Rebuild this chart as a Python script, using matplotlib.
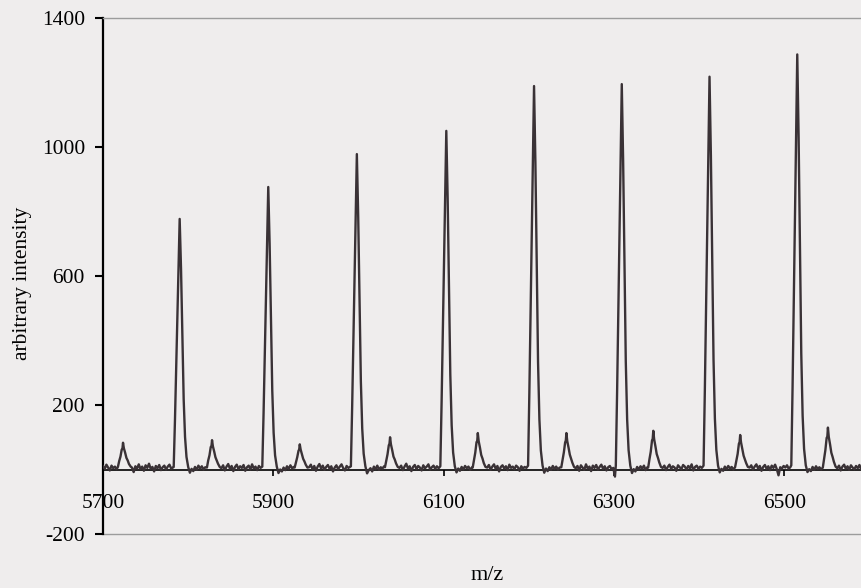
import numpy as np
import matplotlib.pyplot as plt

plt.rcParams['font.family'] = ['Liberation Serif', 'DejaVu Serif']

# main peaks: m/z positions and intensities
big_mz = [5790, 5894, 5998, 6103, 6206, 6309, 6412, 6515]
big_height = [777, 876, 978, 1050, 1189, 1195, 1218, 1287]

# traced profile points of every peak (m/z, intensity)
peak_mz = [
    [5783, 5784.5, 5786, 5787.5, 5789, 5790, 5790.8, 5791.6, 5793.1, 5794.7, 5796.3, 5798, 5800],
    [5887, 5888.5, 5890, 5891.5, 5893, 5894, 5894.8, 5895.6, 5897.1, 5898.7, 5900.3, 5902, 5904],
    [5991, 5992.5, 5994, 5995.5, 5997, 5998, 5998.8, 5999.6, 6001.1, 6002.7, 6004.3, 6006, 6008],
    [6096, 6097.5, 6099, 6100.5, 6102, 6103, 6103.8, 6104.6, 6106.1, 6107.7, 6109.3, 6111, 6113],
    [6199, 6200.5, 6202, 6203.5, 6205, 6206, 6206.8, 6207.6, 6209.1, 6210.7, 6212.3, 6214, 6216],
    [6302, 6303.5, 6305, 6306.5, 6308, 6309, 6309.8, 6310.6, 6312.1, 6313.7, 6315.3, 6317, 6319],
    [6405, 6406.5, 6408, 6409.5, 6411, 6412, 6412.8, 6413.6, 6415.1, 6416.7, 6418.3, 6420, 6422],
    [6508, 6509.5, 6511, 6512.5, 6514, 6515, 6515.8, 6516.6, 6518.1, 6519.7, 6521.3, 6523, 6525],
]
peak_int = [
    [8, 155, 326, 490, 668, 777, 700, 622, 420, 218, 101, 39, 8],
    [9, 175, 368, 552, 753, 876, 788, 700, 473, 245, 114, 44, 9],
    [10, 196, 411, 616, 841, 978, 880, 782, 528, 274, 127, 49, 10],
    [10, 210, 441, 662, 903, 1050, 945, 840, 567, 294, 137, 53, 10],
    [12, 238, 499, 749, 1023, 1189, 1070, 951, 642, 333, 155, 59, 12],
    [12, 239, 502, 753, 1028, 1195, 1076, 956, 645, 335, 155, 60, 12],
    [12, 244, 512, 767, 1047, 1218, 1096, 974, 658, 341, 158, 61, 12],
    [13, 257, 541, 811, 1107, 1287, 1158, 1030, 695, 360, 167, 64, 13],
]

# satellite peaks
small_mz = [
    [5717.5, 5719, 5720.5, 5722, 5722.8, 5723.5, 5724.5, 5726, 5727.5, 5729, 5730.5, 5732.5],
    [5822, 5823.5, 5825, 5826.5, 5827.3, 5828, 5829, 5830.5, 5832, 5833.5, 5835, 5837],
    [5925, 5926.5, 5928, 5929.5, 5930.3, 5931, 5932, 5933.5, 5935, 5936.5, 5938, 5940],
    [6031, 6032.5, 6034, 6035.5, 6036.3, 6037, 6038, 6039.5, 6041, 6042.5, 6044, 6046],
    [6134, 6135.5, 6137, 6138.5, 6139.3, 6140, 6141, 6142.5, 6144, 6145.5, 6147, 6149],
    [6238, 6239.5, 6241, 6242.5, 6243.3, 6244, 6245, 6246.5, 6248, 6249.5, 6251, 6253],
    [6340, 6341.5, 6343, 6344.5, 6345.3, 6346, 6347, 6348.5, 6350, 6351.5, 6353, 6355],
    [6442, 6443.5, 6445, 6446.5, 6447.3, 6448, 6449, 6450.5, 6452, 6453.5, 6455, 6457],
    [6545, 6546.5, 6548, 6549.5, 6550.3, 6551, 6552, 6553.5, 6555, 6556.5, 6558, 6560],
]
small_int = [
    [8, 26, 40, 62, 64, 83, 66, 52, 36, 28, 17, 9],
    [6, 28, 44, 70, 72, 91, 72, 56, 38, 28, 18, 8],
    [6, 22, 38, 58, 62, 78, 62, 48, 33, 25, 15, 6],
    [7, 27, 47, 75, 80, 100, 78, 60, 40, 31, 19, 8],
    [6, 30, 52, 85, 88, 113, 88, 68, 45, 34, 20, 8],
    [7, 30, 53, 84, 90, 113, 88, 68, 46, 34, 21, 8],
    [6, 32, 55, 90, 95, 120, 94, 72, 48, 36, 22, 8],
    [7, 28, 48, 80, 85, 107, 84, 64, 43, 32, 20, 8],
    [6, 34, 60, 98, 102, 130, 101, 78, 52, 39, 24, 9],
]

# baseline between peaks: (start m/z, values every 2 m/z units)
baseline = [
    (5700, [10, 2, 15, 6, -3, 12, 4, 9, 1]),
    (5734, [6, -8, 10, 3, 16, 1, 9, -4, 13, 5, 18, 2, 8, -6, 11, 4, 14, -2, 7, 12, 0, 9, 15, 3, 6]),
    (5802, [-10, 2, -5, 8, -1, 12, 3, 10, 0, 7]),
    (5839, [4, 13, -3, 9, 17, 2, 11, -5, 8, 15, 1, 10, 5, 14, -4, 7, 12, 0, 16, 3, 9, -2, 11, 5]),
    (5906, [-11, 0, -6, 6, -2, 10, 2, 13, 4, 8]),
    (5942, [7, 15, 0, 11, -4, 9, 17, 3, 12, -1, 8, 14, 2, 10, -6, 6, 13, 1, 9, 16, 4, -3, 11, 5, 8]),
    (6010, [-12, -2, 4, -6, 9, 1, 12, -1, 7, 3, 10]),
    (6048, [5, 12, -2, 9, 18, 3, 10, -5, 8, 14, 1, 11, 6, -3, 13, 4, 9, 16, 0, 7, 12, 2, 10, 4]),
    (6115, [-9, 3, -4, 8, 0, 11, 4, 9, -1, 6]),
    (6151, [6, 14, -1, 9, 16, 2, 11, -6, 8, 13, 3, 10, -2, 15, 5, 9, 1, 12, 7, -4, 10, 3, 8, 5]),
    (6218, [-10, 3, -5, 7, -1, 11, 2, 9, 0, 6]),
    (6255, [4, 11, -4, 13, 6, -1, 16, 3, 9, -5, 12, 5, 14, 0, 8, 15, 2, 10, -3, 7, 11, 1, 5, -22]),
    (6321, [-11, 1, -6, 8, 0, 10, 3, 12, -2, 7]),
    (6357, [5, 12, -2, 8, 15, 2, 10, 6, -4, 13, 7, 1, 14, 9, 0, 11, 4, 16, -3, 8, 12, 2, 9, 5]),
    (6424, [-9, 2, -4, 9, 1, 11, 3, 8, 0]),
    (6459, [6, 13, 0, 9, 16, 3, 11, -4, 8, 14, 2, 10, -2, 12, 5, 15, 1, -18, 7, 3, 11, 6, 13, 2, 8]),
    (6527, [-8, 1, -5, 8, -1, 10, 2, 7, 0]),
    (6562, [4, 12, -3, 9, 15, 2, 10, -1, 13, 6, 1, 11, 4, 14, 0, 8, 5]),
]

x_ticks = [5700, 5900, 6100, 6300, 6500]
y_ticks = [-200, 200, 600, 1000, 1400]

# assemble the trace
xs, ys = [], []
for px, py in zip(peak_mz + small_mz, peak_int + small_int):
    xs += px
    ys += py
for start, vals in baseline:
    xs += [start + 2 * i for i in range(len(vals))]
    ys += vals
order = np.argsort(xs)
mz = np.array(xs)[order]
intensity = np.array(ys)[order]

bg = '#efeded'
fig = plt.figure(figsize=(8.62, 5.88), dpi=100, facecolor=bg)
ax = fig.add_axes([103 / 862, 1 - 534 / 588, 1 - 103 / 862, (534 - 18) / 588])
ax.set_facecolor(bg)

ax.plot(mz, intensity, color='#3a3236', lw=1.7, zorder=3)

ax.set_xlim(5700, 6591)
ax.set_ylim(-200, 1400)

ax.spines['right'].set_visible(False)
ax.spines['top'].set_color('#9c9c9c')
ax.spines['top'].set_linewidth(1.0)
ax.spines['left'].set_color('black')
ax.spines['left'].set_linewidth(1.6)
ax.spines['bottom'].set_position(('data', 0))
ax.spines['bottom'].set_color('black')
ax.spines['bottom'].set_linewidth(1.2)
ax.axhline(-200, color='#9c9c9c', lw=1.0, clip_on=False)

ax.set_xticks(x_ticks)
ax.set_xticklabels([str(v) for v in x_ticks])
ax.set_yticks(y_ticks)
ax.set_yticklabels([str(v) for v in y_ticks])
ax.tick_params(axis='y', direction='out', length=6, width=1.5, pad=7, labelsize=15.5)
ax.tick_params(axis='x', direction='out', length=4, width=1.2, pad=14, labelsize=15.5)

fig.text(23 / 862, 1 - 283 / 588, 'arbitrary intensity', rotation=90,
         ha='center', va='center', fontsize=15.5)
fig.text(487 / 862, 1 - 575 / 588, 'm/z', ha='center', va='center', fontsize=16)

fig.savefig('out.png', dpi=100, facecolor=bg)
